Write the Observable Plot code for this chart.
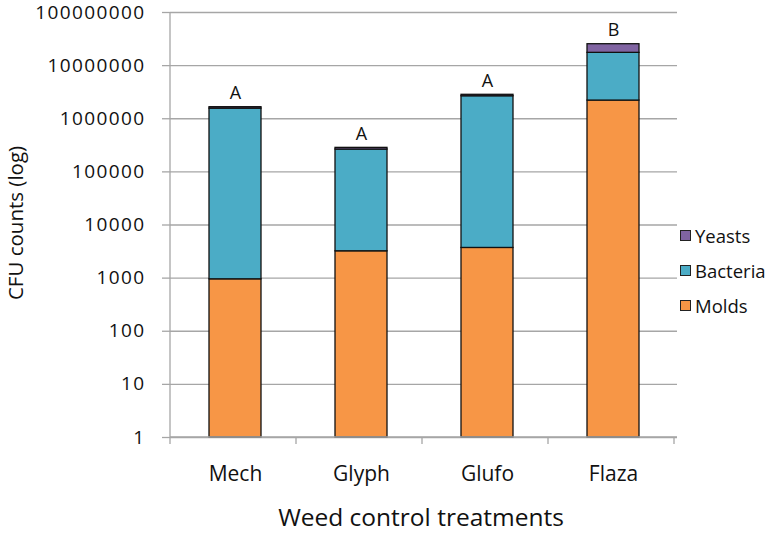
<!DOCTYPE html>
<html>
<head>
<meta charset="utf-8">
<script src="https://cdn.jsdelivr.net/npm/d3@7"></script>
<script src="https://cdn.jsdelivr.net/npm/@observablehq/plot@0.6"></script>
<style>
  body { margin: 0; background: #fff; }
  #wrap { position: relative; width: 774px; height: 535px; font-family: "Open Sans", sans-serif; }
  #legend { position: absolute; left: 680px; top: 218px; font-size: 18.5px; color: #111; }
  .item { display: flex; align-items: center; height: 35px; }
  .sw { width: 11px; height: 11px; border: 1px solid #222; margin-right: 4px; box-sizing: border-box; }
  .ytick text { letter-spacing: 1.4px; }
</style>
</head>
<body>
<div id="wrap"></div>
<script>
const categories = ["Mech", "Glyph", "Glufo", "Flaza"];
const molds    = [950, 3200, 3700, 2200000];
const bacteria = [1550000, 260000, 2650000, 15200000];
const yeasts   = [100000, 20000, 170000, 7900000];
const letters  = ["A", "A", "A", "B"];
const seriesNames = ["Molds", "Bacteria", "Yeasts"];
const seriesColors = ["#F79646", "#4BACC6", "#8064A2"];
const yTicks = [1, 10, 100, 1000, 10000, 100000, 1000000, 10000000, 100000000];
const xTitle = "Weed control treatments";
const yTitle = "CFU counts (log)";

const seriesValues = [molds, bacteria, yeasts];
const rows = [];
const totals = [];
categories.forEach((c, i) => {
  let cum = 0;
  seriesNames.forEach((s, j) => {
    const v = seriesValues[j][i];
    const y1 = cum === 0 ? 1 : cum;
    cum += v;
    rows.push({cat: c, series: s, y1, y2: cum});
  });
  totals.push({cat: c, total: cum, letter: letters[i]});
});

const grid = "#a6a6a6";
const plot = Plot.plot({
  width: 774,
  height: 535,
  marginLeft: 170,
  marginRight: 97,
  marginTop: 12,
  marginBottom: 98,
  style: {fontFamily: "Open Sans, sans-serif", fontSize: "20px", color: "#111", background: "#fff"},
  x: {domain: categories, paddingInner: 0.59, paddingOuter: 0.295, label: null},
  y: {type: "log", domain: [1, 100000000], label: null},
  color: {domain: seriesNames, range: seriesColors},
  marks: [
    Plot.gridY({ticks: yTicks, stroke: grid, strokeOpacity: 1, strokeWidth: 1.3}),
    Plot.axisY({ticks: yTicks, tickFormat: d3.format("d"), tickSize: 8, tickPadding: 17,
                stroke: grid, strokeOpacity: 1, strokeWidth: 1.3, fill: "#111", fontSize: 19,
                label: null, className: "ytick"}),
    Plot.axisX({tickSize: 0, tickPadding: 29, fontSize: 21, fill: "#111", label: null}),
    Plot.barY(rows, {x: "cat", y1: "y1", y2: "y2", fill: "series", stroke: "#111", strokeWidth: 1.3}),
    Plot.text(totals, {x: "cat", y: "total", text: "letter", dy: -14, fontSize: 18, fill: "#111"}),
    Plot.text([xTitle], {frameAnchor: "bottom", dx: -3, dy: 88, fontSize: 24.5, fill: "#111"}),
    Plot.text([yTitle], {frameAnchor: "left", rotate: -90, dx: -154, dy: -2, textAnchor: "middle", fontSize: 20.5, fill: "#111"})
  ]
});

// axis lines and category boundary ticks, positioned from the plot's own scales
const sx = plot.scale("x");
const sy = plot.scale("y");
const svg = d3.select(plot);
const yBottom = sy.range[0], yTop = sy.range[1];
const xLeft = sx.range[0], xRight = sx.range[1];
const g = svg.append("g").attr("stroke", grid).attr("stroke-width", 1.3);
g.append("line").attr("x1", xLeft).attr("x2", xLeft).attr("y1", yTop).attr("y2", yBottom);
g.append("line").attr("x1", xLeft).attr("x2", xRight).attr("y1", yBottom).attr("y2", yBottom);
const step = sx.step ?? (xRight - xLeft) / (categories.length - 0.59 + 2 * 0.295);
for (let i = 0; i <= categories.length; i++) {
  const bx = xLeft + i * step;
  g.append("line").attr("x1", bx).attr("x2", bx).attr("y1", yBottom).attr("y2", yBottom + 7);
}

const wrap = document.getElementById("wrap");
wrap.appendChild(plot);

const legend = document.createElement("div");
legend.id = "legend";
[...seriesNames].reverse().forEach((s) => {
  const item = document.createElement("div");
  item.className = "item";
  const sw = document.createElement("div");
  sw.className = "sw";
  sw.style.background = seriesColors[seriesNames.indexOf(s)];
  const t = document.createElement("span");
  t.textContent = s;
  item.appendChild(sw);
  item.appendChild(t);
  legend.appendChild(item);
});
wrap.appendChild(legend);
</script>
</body>
</html>
